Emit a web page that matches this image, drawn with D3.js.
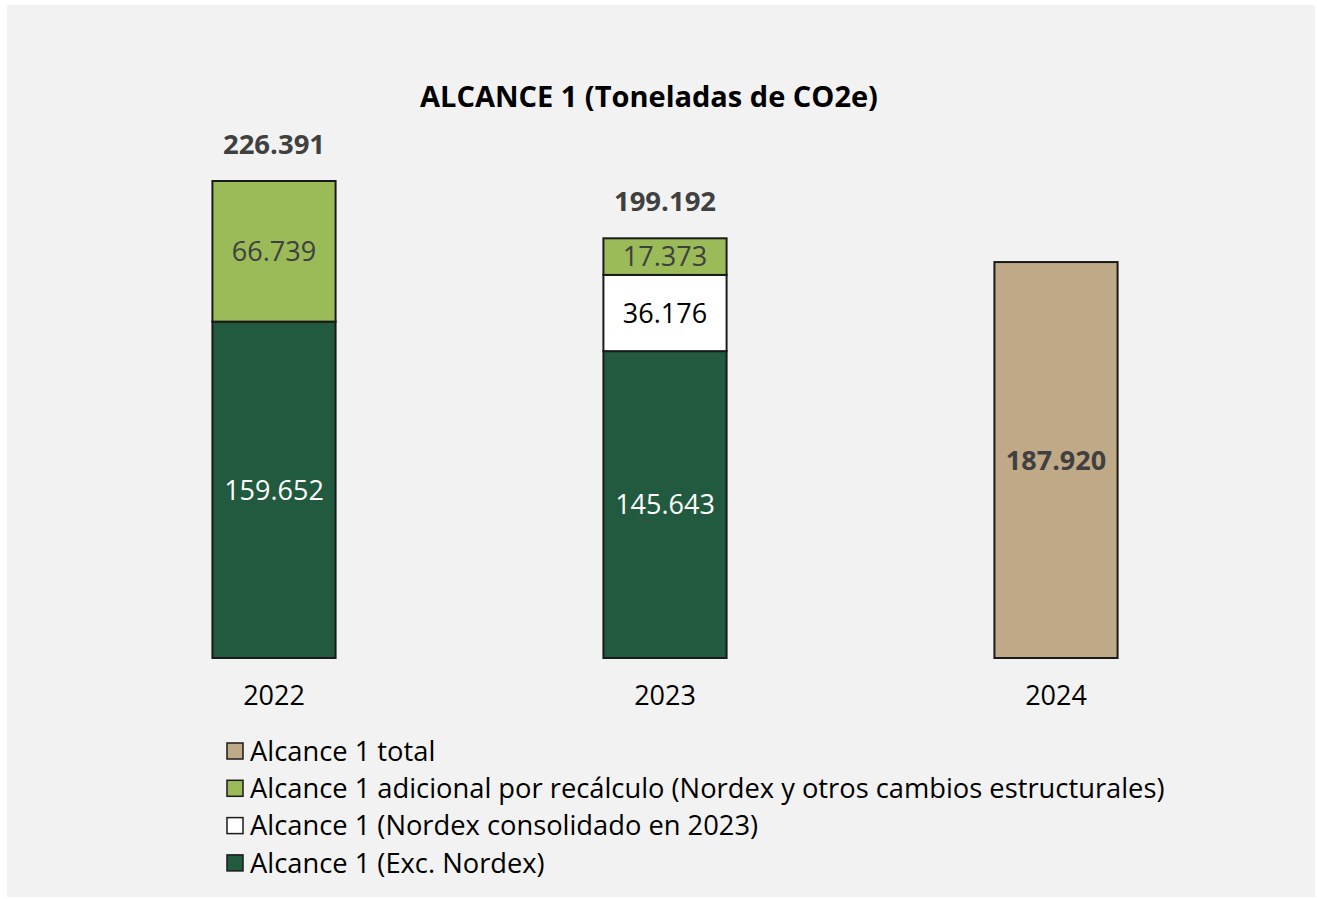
<!DOCTYPE html>
<html>
<head>
<meta charset="utf-8">
<script src="https://cdn.jsdelivr.net/npm/d3@7"></script>
<style>
  body { margin: 0; background: #fff; font-family: "Open Sans", sans-serif; }
</style>
</head>
<body>
<div id="chart"></div>
<script>
const years = ["2022", "2023", "2024"];
const excNordex = [159652, 145643, 0];
const nordexConsolidado = [0, 36176, 0];
const adicionalRecalculo = [66739, 17373, 0];
const alcanceTotal = [0, 0, 187920];
const totalLabels = ["226.391", "199.192", null];

const seriesNames = [
    "Alcance 1 total",
    "Alcance 1 adicional por recálculo (Nordex y otros cambios estructurales)",
    "Alcance 1 (Nordex consolidado en 2023)",
    "Alcance 1 (Exc. Nordex)"
];

const W = 1317, H = 899;
const baseline = 658;
const fs = 27;

const svg = d3.select("#chart")
    .append("svg")
    .attr("width", W)
    .attr("height", H);

// grey panel
svg.append("rect")
    .attr("x", 7).attr("y", 5)
    .attr("width", 1308).attr("height", 892)
    .attr("fill", "#f2f2f2");

svg.append("text")
    .attr("x", 649).attr("y", 107)
    .attr("text-anchor", "middle")
    .attr("font-size", 29)
    .attr("font-weight", "bold")
    .attr("fill", "#000")
    .text("ALCANCE 1 (Toneladas de CO2e)");

const x = d3.scaleBand()
    .domain(years)
    .range([78.5, 1251.5])
    .paddingInner(0.685)
    .paddingOuter(0.3425);

const y = d3.scaleLinear()
    .domain([0, 226391])
    .range([baseline, 181]);

// stack order bottom -> top
const keys = ["exc", "nordex", "adicional", "total"];
const colors = { exc: "#215a3e", nordex: "#ffffff", adicional: "#9bbb59", total: "#c0a986" };
const labelColors = { exc: "#ffffff", nordex: "#000000", adicional: "#404040", total: "#404040" };
const labelWeight = { exc: "normal", nordex: "normal", adicional: "normal", total: "bold" };

const rows = years.map((yr, i) => ({
    year: yr,
    exc: excNordex[i],
    nordex: nordexConsolidado[i],
    adicional: adicionalRecalculo[i],
    total: alcanceTotal[i]
}));

const stacked = d3.stack().keys(keys)(rows);
const fmt = v => d3.format(",")(v).replace(/,/g, ".");

const g = svg.append("g");

stacked.forEach(layer => {
    const k = layer.key;
    layer.forEach((d, i) => {
        if (d[1] - d[0] <= 0) return;
        g.append("rect")
            .attr("x", x(years[i]))
            .attr("y", y(d[1]))
            .attr("width", x.bandwidth())
            .attr("height", y(d[0]) - y(d[1]))
            .attr("fill", colors[k])
            .attr("stroke", "#1a1a1a")
            .attr("stroke-width", 2);
    });
});

stacked.forEach(layer => {
    const k = layer.key;
    layer.forEach((d, i) => {
        if (d[1] - d[0] <= 0) return;
        g.append("text")
            .attr("x", x(years[i]) + x.bandwidth() / 2)
            .attr("y", (y(d[0]) + y(d[1])) / 2)
            .attr("dy", "0.36em")
            .attr("text-anchor", "middle")
            .attr("font-size", fs)
            .attr("font-weight", labelWeight[k])
            .attr("fill", labelColors[k])
            .text(fmt(d[1] - d[0]));
    });
});

// totals above stacks
rows.forEach((r, i) => {
    if (!totalLabels[i]) return;
    const top = r.exc + r.nordex + r.adicional;
    g.append("text")
        .attr("x", x(r.year) + x.bandwidth() / 2)
        .attr("y", y(top) - 37)
        .attr("dy", "0.36em")
        .attr("text-anchor", "middle")
        .attr("font-size", 27.5)
        .attr("font-weight", "bold")
        .attr("fill", "#404040")
        .text(totalLabels[i]);
});

const xAxis = svg.append("g")
    .attr("transform", `translate(0,${baseline})`)
    .call(d3.axisBottom(x).tickSize(0).tickPadding(28));
xAxis.select(".domain").remove();
xAxis.selectAll("text")
    .attr("font-size", fs)
    .attr("font-family", "'Open Sans', sans-serif")
    .attr("fill", "#000");

// legend
const legendColors = [colors.total, colors.adicional, colors.nordex, colors.exc];
const legend = svg.append("g");
seriesNames.forEach((name, i) => {
    const ly = 751 + i * 37.3;
    legend.append("rect")
        .attr("x", 227).attr("y", ly - 8)
        .attr("width", 16).attr("height", 16)
        .attr("fill", legendColors[i])
        .attr("stroke", "#1a1a1a")
        .attr("stroke-width", 1.5);
    legend.append("text")
        .attr("x", 250).attr("y", ly)
        .attr("dy", "0.36em")
        .attr("font-size", 27.3)
        .attr("fill", "#000")
        .text(name);
});
</script>
</body>
</html>
